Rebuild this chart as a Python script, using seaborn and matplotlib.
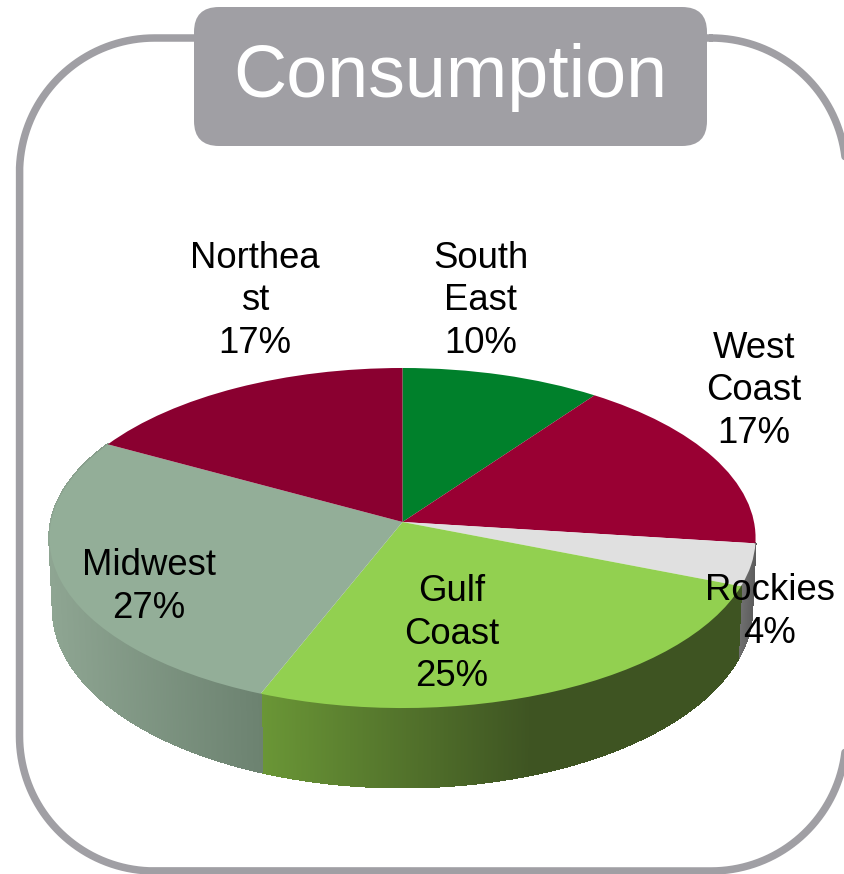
import matplotlib
matplotlib.use("Agg")
import matplotlib.pyplot as plt
from matplotlib.collections import PolyCollection
from matplotlib.colors import to_rgb
from matplotlib.patches import FancyBboxPatch
from matplotlib.transforms import Transform
import numpy as np
import seaborn as sns

regions = ["South\nEast", "West\nCoast", "Rockies", "Gulf\nCoast", "Midwest", "Northea\nst"]
shares = [10, 17, 4, 25, 27, 17]
slice_colors = ["#00802B", "#990033", "#E0E0E0", "#92D050", "#93AE98", "#8A0030"]
# wall shading per region: colour at left / right of the slice, only the front three show
wall_colors = {2: ("#707070", "#5C5C5C"), 3: ("#6A9636", "#3E5422"), 4: ("#8EA592", "#6C8270")}
label_pos = [(481, 301), (754, 391), (770, 612), (452, 634), (149, 587), (255, 301)]

sns.set_theme(style="white")
plt.rcParams["font.family"] = ["Liberation Sans", "DejaVu Sans"]

GREY = "#A09FA4"
CX, CY = 402.5, 522
A, B, K = 351.5, 168.5, 0.0941


def to_pixels(u, v, a=A, b=B, dy=0.0):
    w = 1 + K * v
    return CX + a * u / w, CY + dy - b * v / w


class TiltTransform(Transform):
    input_dims = 2
    output_dims = 2

    def transform_non_affine(self, values):
        x, y = to_pixels(values[:, 0], values[:, 1])
        return np.column_stack([x, y])


fig, ax = plt.subplots(figsize=(8.45, 8.74), dpi=100)
fig.subplots_adjust(0, 0, 1, 1)

wedges, _ = ax.pie(shares, colors=sns.color_palette(slice_colors), startangle=90,
                   counterclock=False, radius=1, wedgeprops={"linewidth": 0})
ax.set_aspect("auto")
ax.set_xlim(0, 845)
ax.set_ylim(874, 0)
ax.axis("off")

tilt = TiltTransform()
for w in wedges:
    w.set_transform(tilt + ax.transData)
    w.set_zorder(3)

# side wall of the pie, thin strips shaded along x
edges = np.cumsum([0] + shares) * 3.6
for i, (left_c, right_c) in wall_colors.items():
    t = np.radians(np.arange(edges[i], edges[i + 1] + 0.2, 0.2))
    tx, ty = to_pixels(np.sin(t), np.cos(t))
    bx, by = to_pixels(np.sin(t), np.cos(t), a=A * 0.99, b=B * 1.05, dy=70)
    polys = [[(tx[j], ty[j]), (tx[j + 1], ty[j + 1]), (bx[j + 1], by[j + 1]), (bx[j], by[j])]
             for j in range(len(t) - 1)]
    lo, hi = bx.min(), bx.max()
    if i == 3:
        hi = 530
    frac = np.clip((bx[:-1] - lo) / (hi - lo), 0, 1)
    c0, c1 = np.array(to_rgb(left_c)), np.array(to_rgb(right_c))
    cols = [c0 + (c1 - c0) * f for f in frac]
    ax.add_collection(PolyCollection(polys, facecolors=cols, edgecolors=cols, linewidths=1,
                                     antialiaseds=False, zorder=2))

# outer frame with circular corners
x0, x1, y0, y1, r = 19.5, 846, 38, 871, 135
corners = [(x1 - r, y0 + r, -90, 0), (x1 - r, y1 - r, 0, 90), (x0 + r, y1 - r, 90, 180), (x0 + r, y0 + r, 180, 270)]
fx, fy = [], []
for ccx, ccy, a0, a1 in corners:
    ang = np.radians(np.linspace(a0, a1, 40))
    fx.extend(ccx + r * np.cos(ang))
    fy.extend(ccy + r * np.sin(ang))
ax.plot(fx + fx[:1], fy + fy[:1], color=GREY, lw=5.4, zorder=1)

tab = FancyBboxPatch((194, 7), 513, 139, boxstyle="round,pad=0,rounding_size=25",
                     fc=GREY, ec="none", zorder=4)
ax.add_patch(tab)
ax.text(450, 78, "Consumption", color="white", fontsize=53, ha="center", va="center", zorder=5)

for name, val, (x, y) in zip(regions, shares, label_pos):
    ax.text(x, y, f"{name}\n{val}%", color="black", fontsize=26.3, ha="center", va="center",
            linespacing=1.26, zorder=6)

fig.savefig("out.png", dpi=100)
